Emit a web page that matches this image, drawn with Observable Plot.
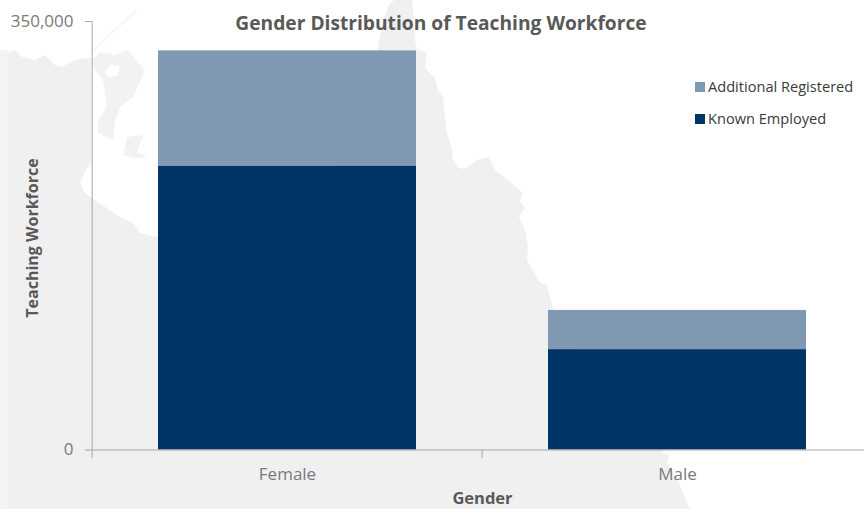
<!DOCTYPE html>
<html>
<head>
<meta charset="utf-8">
<script src="https://cdn.jsdelivr.net/npm/d3@7"></script>
<script src="https://cdn.jsdelivr.net/npm/@observablehq/plot@0.6"></script>
<style>
html,body{margin:0;padding:0;background:#fff;}
#chart{position:relative;width:864px;height:509px;overflow:hidden;font-family:"Open Sans",sans-serif;}
#chart svg{display:block;}
.legend{position:absolute;left:695px;font-size:14.6px;line-height:20px;color:#3a3a3a;white-space:nowrap;}
.legend i{display:inline-block;width:10px;height:10px;margin-right:3px;}
</style>
</head>
<body>
<div id="chart"></div>
<script>
const title = "Gender Distribution of Teaching Workforce";
const xTitle = "Gender";
const yTitle = "Teaching Workforce";
const categories = ["Female", "Male"];
const seriesNames = ["Known Employed", "Additional Registered"];
const seriesColors = ["#003366", "#7f99b2"];
const knownEmployed = [232000, 82000];
const additionalRegistered = [94000, 32000];
const yTicks = [0, 350000];

// Decorative backdrop: the pale map silhouette behind the chart (page pixels)
const mapOutline = [[0,50],[8,53],[15,50],[22,57],[35,60],[45,55],[55,65],[62,67],[75,60],[88,58],[91,58],[91,163],[87,168],[80,183],[85,193],[92,198],[120,217],[133,223],[140,233],[157,237],[300,240],[377,100],[377,50],[383,20],[390,3],[395,0],[412,0],[415,40],[417,50],[427,52],[425,68],[435,78],[438,90],[443,97],[445,117],[447,133],[452,150],[453,160],[458,168],[465,169],[473,163],[477,160],[489,157],[495,170],[510,182],[523,193],[520,202],[525,207],[519,217],[525,230],[528,247],[527,260],[540,283],[547,285],[553,308],[600,380],[665,449],[662,452],[670,455],[667,462],[680,485],[690,509],[0,509]];
const mapPeninsula = [[92,60],[100,52],[115,55],[127,50],[145,70],[133,97],[120,107],[115,122],[113,140],[98,133],[98,120],[107,107],[103,80],[97,73],[92,65]];
const mapIsland = [[123,155],[127,137],[143,135],[137,153],[148,157],[133,158]];
const mapHole = [[105,72],[110,65],[120,66],[117,76],[108,77]];
const mapStreak = [[93,50],[115,30],[137,10]];

const rows = seriesNames.flatMap((s, i) =>
  categories.map((c, j) => ({category: c, series: s, value: (i === 0 ? knownEmployed : additionalRegistered)[j]}))
);

function backdrop() {
  const g = d3.create("svg:g").attr("style", "filter:blur(0.7px)");
  const line = d3.line();
  g.append("path").attr("d", line(mapOutline) + "Z").attr("fill", "#f0f0f0");
  g.append("rect").attr("x", 0).attr("y", 50).attr("width", 8).attr("height", 459).attr("fill", "#f3f3f3");
  g.append("path").attr("d", line(mapPeninsula) + "Z").attr("fill", "#f2f2f2");
  g.append("path").attr("d", line(mapHole) + "Z").attr("fill", "#ffffff");
  g.append("path").attr("d", line(mapIsland) + "Z").attr("fill", "#f2f2f2");
  g.append("path").attr("d", line(mapStreak)).attr("fill", "none").attr("stroke", "#f8f8f8").attr("stroke-width", 3);
  return g.node();
}

const axisColor = "#a6a6a6";
const labelColor = "#7a7a7a";
const titleColor = "#595959";
const bandStep = 390.75;
const commaFormat = d3.format(",");

const plot = Plot.plot({
  width: 864,
  height: 509,
  marginLeft: 91.5,
  marginRight: 0,
  marginTop: 21,
  marginBottom: 59.5,
  style: {fontFamily: "'Open Sans', sans-serif", background: "transparent", overflow: "hidden"},
  x: {domain: categories, range: [91.5, 873], paddingInner: 0.339, paddingOuter: 0.1695, align: 0.5, label: null},
  y: {domain: [0, 350000], range: [449.5, 21], label: null},
  color: {domain: seriesNames, range: seriesColors},
  marks: [
    backdrop,
    Plot.barY(rows, {x: "category", y: "value", fill: "series"}),
    Plot.ruleY([0], {stroke: axisColor, strokeWidth: 1}),
    Plot.ruleX(categories, {x: d => d, dx: -bandStep / 2, y1: 0, y2: -7000, stroke: axisColor, strokeWidth: 1}),
    Plot.ruleX(categories.slice(0, 1), {x: d => d, dx: -bandStep / 2, y1: 0, y2: 350000, stroke: axisColor, strokeWidth: 1}),
    Plot.axisY({ticks: yTicks, tickFormat: d => commaFormat(d), tickSize: 6.5, tickPadding: 12, stroke: axisColor, color: labelColor, fontSize: 17, label: null}),
    Plot.axisX({tickSize: 0, tickPadding: 18, color: labelColor, fontSize: 17, label: null}),
    Plot.text([title], {frameAnchor: "top-left", dx: 349, dy: 2, textAnchor: "middle", lineAnchor: "middle", fontSize: 19.2, fontWeight: 700, fill: titleColor}),
    Plot.text([xTitle], {frameAnchor: "bottom-left", dx: 390.5, dy: 49, textAnchor: "middle", lineAnchor: "middle", fontSize: 16.5, fontWeight: 700, fill: titleColor}),
    Plot.text([yTitle], {frameAnchor: "top-left", dx: -59.5, dy: 216.5, rotate: -90, textAnchor: "middle", lineAnchor: "middle", fontSize: 16, fontWeight: 700, fill: titleColor})
  ]
});

const chart = document.getElementById("chart");
chart.appendChild(plot);

// Legend, top entry is the upper stack segment
[...seriesNames].reverse().forEach((s, i) => {
  const d = document.createElement("div");
  d.className = "legend";
  d.style.top = (76 + i * 32) + "px";
  d.innerHTML = `<i style="background:${seriesColors[seriesNames.indexOf(s)]}"></i>${s}`;
  chart.appendChild(d);
});
</script>
</body>
</html>
